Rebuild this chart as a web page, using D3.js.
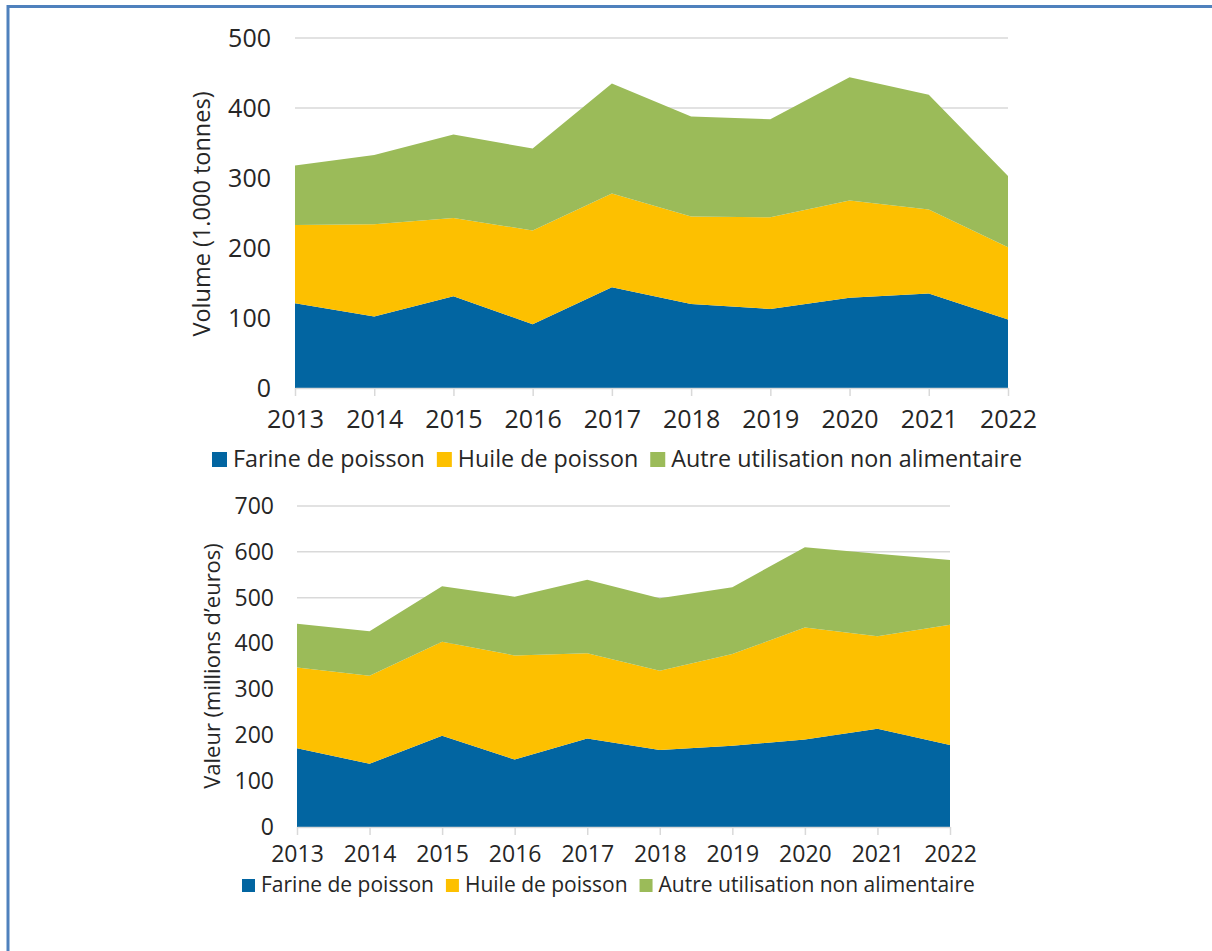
<!DOCTYPE html>
<html>
<head>
<meta charset="utf-8">
<script src="https://cdn.jsdelivr.net/npm/d3@7"></script>
<style>
  html, body { margin: 0; padding: 0; background: #fff; }
  svg { display: block; }
  text { font-family: "Open Sans", "Noto Sans", sans-serif; fill: #262626; }
</style>
</head>
<body>
<svg id="chart" width="1212" height="951"></svg>
<script>
// ---- data ----
const years = ["2013","2014","2015","2016","2017","2018","2019","2020","2021","2022"];
const seriesNames = ["Farine de poisson", "Huile de poisson", "Autre utilisation non alimentaire"];
const seriesColors = ["#0265a1", "#fdc000", "#9bbb59"];

// Volume (1.000 tonnes)
const volFarine = [121, 102, 131, 91, 144, 120, 113, 129, 135, 98];
const volHuile  = [112, 132, 112, 134, 134, 125, 131, 139, 120, 103];
const volAutre  = [85, 99, 119, 117, 157, 143, 140, 176, 164, 102];
const volTicks  = [0, 100, 200, 300, 400, 500];

// Valeur (millions d'euros)
const valFarine = [172, 138, 199, 147, 193, 168, 177, 191, 214, 179];
const valHuile  = [176, 192, 205, 227, 186, 173, 200, 244, 202, 262];
const valAutre  = [95, 97, 121, 128, 160, 158, 146, 175, 180, 141];
const valTicks  = [0, 100, 200, 300, 400, 500, 600, 700];

const svg = d3.select("#chart");

// frame
svg.append("line").attr("x1", 7).attr("x2", 1212).attr("y1", 6.5).attr("y2", 6.5)
  .attr("stroke", "#4f81bd").attr("stroke-width", 3);
svg.append("line").attr("x1", 8).attr("x2", 8).attr("y1", 5).attr("y2", 951)
  .attr("stroke", "#4f81bd").attr("stroke-width", 3);

function drawChart(cfg) {
  const rows = years.map((y, i) => ({
    year: y,
    [seriesNames[0]]: cfg.s[0][i],
    [seriesNames[1]]: cfg.s[1][i],
    [seriesNames[2]]: cfg.s[2][i]
  }));
  const stacked = d3.stack().keys(seriesNames)(rows);

  const x = d3.scalePoint().domain(years).range([cfg.x0, cfg.x1]).padding(0);
  const y = d3.scaleLinear().domain([0, d3.max(cfg.ticks)]).range([cfg.yb, cfg.yt]);

  const g = svg.append("g");

  // gridlines
  g.append("g").selectAll("line").data(cfg.ticks.filter(t => t > 0)).join("line")
    .attr("x1", cfg.x0).attr("x2", cfg.x1)
    .attr("y1", d => y(d)).attr("y2", d => y(d))
    .attr("stroke", "#d9d9d9").attr("stroke-width", 1.5);

  // areas
  const area = d3.area()
    .x(d => x(d.data.year))
    .y0(d => y(d[0]))
    .y1(d => y(d[1]));
  g.append("g").selectAll("path").data(stacked).join("path")
    .attr("d", area)
    .attr("fill", (d, i) => seriesColors[i]);

  // x axis
  const xAxis = d3.axisBottom(x).tickSize(8).tickSizeOuter(0).tickPadding(cfg.xPad);
  const xg = g.append("g").attr("transform", `translate(0,${cfg.yb})`).call(xAxis);
  xg.select(".domain").attr("stroke", "#d9d9d9").attr("stroke-width", 1.5);
  xg.selectAll(".tick line").attr("stroke", "#d9d9d9").attr("stroke-width", 1.5);
  xg.selectAll(".tick text").attr("font-size", cfg.xFont).attr("fill", "#262626")
    .attr("font-family", '"Open Sans", sans-serif');

  // y axis
  const yAxis = d3.axisLeft(y).tickValues(cfg.ticks).tickSize(0).tickPadding(0);
  const yg = g.append("g").attr("transform", `translate(${cfg.yLabX},0)`).call(yAxis);
  yg.select(".domain").remove();
  yg.selectAll(".tick text").attr("font-size", cfg.yFont).attr("fill", "#262626")
    .attr("font-family", '"Open Sans", sans-serif');

  // y title
  g.append("text")
    .attr("transform", `translate(${cfg.titleX},${cfg.titleY}) rotate(-90)`)
    .attr("text-anchor", "middle")
    .attr("font-size", cfg.titleFont)
    .text(cfg.title);

  // legend
  const lg = g.append("g");
  let cx = cfg.legX;
  seriesNames.forEach((name, i) => {
    lg.append("rect").attr("x", cx).attr("y", cfg.legY - cfg.sq)
      .attr("width", cfg.sq).attr("height", cfg.sq).attr("fill", seriesColors[i]);
    const t = lg.append("text").attr("x", cx + cfg.sq + 6).attr("y", cfg.legY)
      .attr("font-size", cfg.legFont).text(name);
    cx = cx + cfg.sq + 6 + t.node().getComputedTextLength() + 12;
  });
}

drawChart({
  s: [volFarine, volHuile, volAutre], ticks: volTicks,
  x0: 295, x1: 1008, yb: 388, yt: 38,
  xPad: 14, xFont: 25, yFont: 25, yLabX: 271,
  title: "Volume (1.000 tonnes)", titleX: 210, titleY: 214, titleFont: 23.5,
  legX: 212, legY: 467, sq: 15, legFont: 23.3
});

drawChart({
  s: [valFarine, valHuile, valAutre], ticks: valTicks,
  x0: 297, x1: 950, yb: 827, yt: 506,
  xPad: 11, xFont: 23, yFont: 23, yLabX: 274,
  title: "Valeur (millions d\u2019euros)", titleX: 220, titleY: 666, titleFont: 22,
  legX: 242, legY: 892, sq: 13, legFont: 21
});
</script>
</body>
</html>
